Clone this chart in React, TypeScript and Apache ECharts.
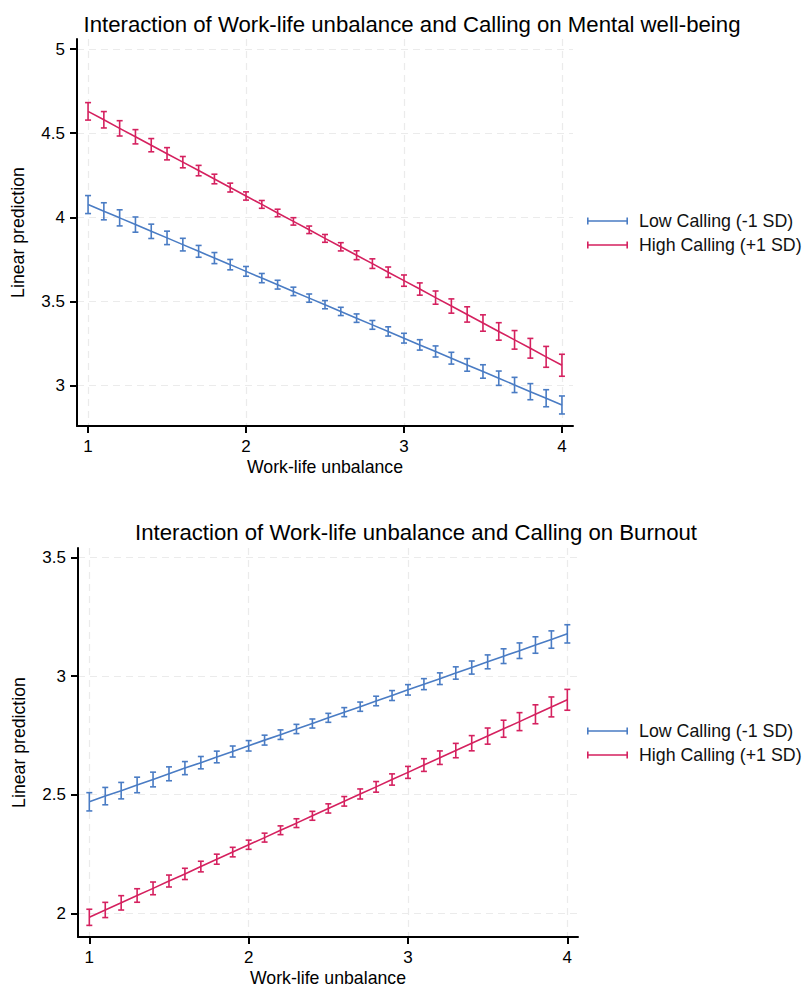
import React, { useEffect, useRef } from "react";
import * as echarts from "echarts";

const xValues = [1.0, 1.1, 1.2, 1.3, 1.4, 1.5, 1.6, 1.7, 1.8, 1.9, 2.0, 2.1, 2.2, 2.3, 2.4, 2.5, 2.6, 2.7, 2.8, 2.9, 3.0, 3.1, 3.2, 3.3, 3.4, 3.5, 3.6, 3.7, 3.8, 3.9, 4.0];

// Panel 1: Mental well-being
const wellLow = [4.076, 4.036, 3.997, 3.957, 3.917, 3.878, 3.838, 3.798, 3.758, 3.719, 3.679, 3.639, 3.600, 3.560, 3.520, 3.481, 3.441, 3.401, 3.361, 3.322, 3.282, 3.242, 3.203, 3.163, 3.123, 3.084, 3.044, 3.004, 2.964, 2.925, 2.885];
const wellLowCI = [0.0535, 0.0507, 0.0479, 0.0452, 0.0426, 0.0400, 0.0375, 0.0351, 0.0329, 0.0309, 0.0290, 0.0274, 0.0261, 0.0251, 0.0245, 0.0243, 0.0245, 0.0251, 0.0261, 0.0274, 0.0290, 0.0309, 0.0329, 0.0351, 0.0375, 0.0400, 0.0426, 0.0452, 0.0479, 0.0507, 0.0535];
const wellHigh = [4.630, 4.580, 4.529, 4.479, 4.429, 4.378, 4.328, 4.278, 4.228, 4.177, 4.127, 4.077, 4.026, 3.976, 3.926, 3.875, 3.825, 3.775, 3.725, 3.674, 3.624, 3.574, 3.523, 3.473, 3.423, 3.372, 3.322, 3.272, 3.222, 3.171, 3.121];
const wellHighCI = [0.0519, 0.0487, 0.0455, 0.0424, 0.0393, 0.0364, 0.0336, 0.0309, 0.0285, 0.0263, 0.0245, 0.0232, 0.0223, 0.0220, 0.0223, 0.0232, 0.0245, 0.0263, 0.0285, 0.0309, 0.0336, 0.0364, 0.0393, 0.0424, 0.0455, 0.0487, 0.0519, 0.0552, 0.0586, 0.0620, 0.0653];

// Panel 2: Burnout
const burnLow = [2.470, 2.494, 2.517, 2.541, 2.564, 2.588, 2.612, 2.635, 2.659, 2.682, 2.706, 2.730, 2.753, 2.777, 2.800, 2.824, 2.848, 2.871, 2.895, 2.918, 2.942, 2.966, 2.989, 3.013, 3.036, 3.060, 3.084, 3.107, 3.131, 3.154, 3.178];
const burnLowCI = [0.0385, 0.0366, 0.0347, 0.0328, 0.0310, 0.0293, 0.0276, 0.0260, 0.0246, 0.0232, 0.0220, 0.0209, 0.0201, 0.0195, 0.0191, 0.0189, 0.0191, 0.0195, 0.0201, 0.0209, 0.0220, 0.0232, 0.0246, 0.0260, 0.0276, 0.0293, 0.0310, 0.0328, 0.0347, 0.0366, 0.0385];
const burnHigh = [1.983, 2.014, 2.044, 2.075, 2.105, 2.136, 2.166, 2.197, 2.228, 2.258, 2.289, 2.319, 2.350, 2.380, 2.411, 2.442, 2.472, 2.503, 2.533, 2.564, 2.594, 2.625, 2.656, 2.686, 2.717, 2.747, 2.778, 2.808, 2.839, 2.870, 2.900];
const burnHighCI = [0.0340, 0.0321, 0.0303, 0.0285, 0.0268, 0.0252, 0.0237, 0.0224, 0.0212, 0.0201, 0.0194, 0.0188, 0.0185, 0.0185, 0.0188, 0.0194, 0.0201, 0.0212, 0.0224, 0.0237, 0.0252, 0.0268, 0.0285, 0.0303, 0.0321, 0.0340, 0.0359, 0.0379, 0.0399, 0.0420, 0.0440];

const xTicks = [1, 2, 3, 4];
const yTicksWell = [3, 3.5, 4, 4.5, 5];
const yTicksBurn = [2, 2.5, 3, 3.5];

const seriesNames = ["Low Calling (-1 SD)", "High Calling (+1 SD)"];
const titles = [
  "Interaction of Work-life unbalance and Calling on Mental well-being",
  "Interaction of Work-life unbalance and Calling on Burnout",
];
const xAxisName = "Work-life unbalance";
const yAxisName = "Linear prediction";

const BLUE = "#4a7cc4";
const RED = "#d5215f";
const FONT = "'Liberation Sans', Arial, Helvetica, sans-serif";

export default function App() {
  const ref = useRef<HTMLDivElement>(null);

  useEffect(() => {
    document.body.style.margin = "0";
    if (!ref.current) return;
    const chart = echarts.init(ref.current, null, { renderer: "svg" });

    const lineData = (ys: number[]) => xValues.map((x, i) => [x, ys[i]]);
    const ciData = (ys: number[], ci: number[]) =>
      xValues.map((x, i) => [x, ys[i] - ci[i], ys[i] + ci[i]]);

    const errSeries = (name: string, color: string, idx: number, data: number[][]) => ({
      type: "custom",
      name,
      xAxisIndex: idx,
      yAxisIndex: idx,
      encode: { x: 0, y: [1, 2] },
      data,
      z: 3,
      renderItem: (_params: any, api: any) => {
        const x = api.value(0);
        const lo = api.coord([x, api.value(1)]);
        const hi = api.coord([x, api.value(2)]);
        const w = 3;
        const style = { stroke: color, lineWidth: 1.6 };
        return {
          type: "group",
          children: [
            { type: "line", shape: { x1: lo[0], y1: lo[1], x2: hi[0], y2: hi[1] }, style },
            { type: "line", shape: { x1: lo[0] - w, y1: lo[1], x2: lo[0] + w, y2: lo[1] }, style },
            { type: "line", shape: { x1: hi[0] - w, y1: hi[1], x2: hi[0] + w, y2: hi[1] }, style },
          ],
        };
      },
    });

    const lineSeries = (name: string, color: string, idx: number, data: number[][]) => ({
      type: "line",
      name,
      xAxisIndex: idx,
      yAxisIndex: idx,
      data,
      showSymbol: false,
      symbol: "none",
      color,
      lineStyle: { color, width: 1.6 },
      itemStyle: { color },
      z: 2,
    });

    const axisCommon = {
      axisLine: { show: true, lineStyle: { color: "#000", width: 2 } },
      axisTick: { show: true, length: 7, lineStyle: { color: "#000", width: 2 } },
      splitLine: { show: true, lineStyle: { type: [7, 5], color: "#ebebeb", width: 1.2 } },
      nameTextStyle: { fontSize: 17.7, color: "#000", fontFamily: FONT },
    };

    const makeX = (idx: number, min: number, max: number) => ({
      type: "value",
      gridIndex: idx,
      min,
      max,
      name: xAxisName,
      nameLocation: "middle",
      nameGap: 32,
      ...axisCommon,
      axisTick: { ...axisCommon.axisTick, customValues: xTicks },
      axisLabel: { customValues: xTicks, fontSize: 17, color: "#000", fontFamily: FONT, margin: 12 },
    });

    const makeY = (idx: number, min: number, max: number, ticks: number[]) => ({
      type: "value",
      gridIndex: idx,
      min,
      max,
      name: yAxisName,
      nameLocation: "middle",
      nameGap: 50,
      ...axisCommon,
      axisTick: { ...axisCommon.axisTick, customValues: ticks },
      axisLabel: { customValues: ticks, fontSize: 17, color: "#000", fontFamily: FONT, margin: 12 },
    });

    const legendIcon =
      "path://M0,0 h1.6 v7 h-1.6 z M0,2.8 h41 v1.5 h-41 z M39.4,0 h1.6 v7 h-1.6 z";

    const makeLegend = (top: number) => ({
      data: seriesNames,
      orient: "vertical",
      left: 587,
      top,
      padding: 0,
      icon: legendIcon,
      itemWidth: 41,
      itemHeight: 7,
      itemGap: 6,
      selectedMode: false,
      textStyle: { fontSize: 17.8, color: "#111", fontFamily: FONT, padding: [0, 0, 0, 6] },
    });

    chart.setOption({
      animation: false,
      backgroundColor: "#fff",
      textStyle: { fontFamily: FONT },
      graphic: [
        {
          type: "text",
          x: 412,
          y: 24,
          style: {
            text: titles[0],
            fontSize: 22.2,
            fontFamily: FONT,
            fill: "#000",
            textAlign: "center",
            textVerticalAlign: "middle",
          },
        },
        {
          type: "text",
          x: 416,
          y: 532,
          style: {
            text: titles[1],
            fontSize: 22.2,
            fontFamily: FONT,
            fill: "#000",
            textAlign: "center",
            textVerticalAlign: "middle",
          },
        },
      ],
      legend: [makeLegend(212), makeLegend(722)],
      grid: [
        { left: 77, top: 39, width: 496, height: 387, containLabel: false },
        { left: 78, top: 548, width: 500, height: 389, containLabel: false },
      ],
      xAxis: [makeX(0, 0.93, 4.07), makeX(1, 0.929, 4.067)],
      yAxis: [makeY(0, 2.76, 5.06, yTicksWell), makeY(1, 1.9, 3.54, yTicksBurn)],
      series: [
        lineSeries(seriesNames[0], BLUE, 0, lineData(wellLow)),
        lineSeries(seriesNames[1], RED, 0, lineData(wellHigh)),
        errSeries(seriesNames[0] + " CI", BLUE, 0, ciData(wellLow, wellLowCI)),
        errSeries(seriesNames[1] + " CI", RED, 0, ciData(wellHigh, wellHighCI)),
        lineSeries(seriesNames[0], BLUE, 1, lineData(burnLow)),
        lineSeries(seriesNames[1], RED, 1, lineData(burnHigh)),
        errSeries(seriesNames[0] + " CI", BLUE, 1, ciData(burnLow, burnLowCI)),
        errSeries(seriesNames[1] + " CI", RED, 1, ciData(burnHigh, burnHighCI)),
      ],
    });

    return () => chart.dispose();
  }, []);

  return <div ref={ref} style={{ width: 809, height: 988 }} />;
}
